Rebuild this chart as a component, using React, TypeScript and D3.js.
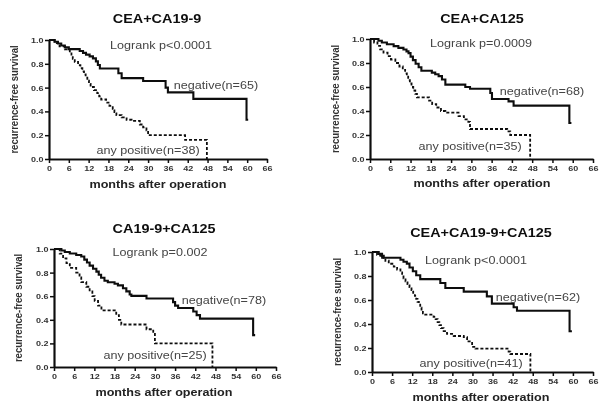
import React, { useRef, useEffect } from 'react';
import * as d3 from 'd3';

type Pt = [number, number];

// months / survival ticks
const monthTicks = [0, 6, 12, 18, 24, 30, 36, 42, 48, 54, 60, 66];
const survivalTicks = [0, 0.2, 0.4, 0.6, 0.8, 1.0];

// CEA+CA19-9
const ceaCa199Negative: Pt[] = [
  [0, 1], [1.7, 0.985], [2.7, 0.97], [3.7, 0.954], [4.8, 0.938], [6, 0.923], [9.3, 0.908],
  [10.3, 0.892], [11.2, 0.877], [12.3, 0.862], [13.3, 0.846], [14.2, 0.82], [14.8, 0.79],
  [15.4, 0.76], [21, 0.72], [22, 0.68], [28.5, 0.655], [35.3, 0.6], [36, 0.56], [43.7, 0.505],
  [59.8, 0.33], [60.3, 0.33],
];
const ceaCa199Positive: Pt[] = [
  [0, 1], [1.7, 0.974], [3.2, 0.947], [4.8, 0.921], [6.3, 0.895], [6.8, 0.868], [7.2, 0.842],
  [7.8, 0.816], [8.8, 0.789], [9.5, 0.763], [10.1, 0.737], [10.6, 0.711], [11.1, 0.684],
  [11.6, 0.658], [12.1, 0.632], [12.6, 0.605], [13.6, 0.579], [14.6, 0.553], [15.2, 0.526],
  [15.8, 0.5], [17.3, 0.474], [18.3, 0.447], [19.3, 0.421], [19.8, 0.395], [20.4, 0.368],
  [22, 0.35], [23.5, 0.33], [25, 0.32], [27.5, 0.29], [28.5, 0.265], [29.5, 0.24], [30, 0.2],
  [41.2, 0.16], [47.8, 0],
];

// CEA+CA125
const ceaCa125Negative: Pt[] = [
  [0, 1], [2.5, 0.985], [3.5, 0.971], [5, 0.956], [7, 0.941], [8.4, 0.926], [9.9, 0.912],
  [10.8, 0.897], [11.4, 0.882], [12, 0.853], [12.7, 0.824], [13.5, 0.794], [14.4, 0.765],
  [15.2, 0.735], [18.3, 0.72], [19.3, 0.706], [20.3, 0.691], [21.3, 0.662], [22.3, 0.62],
  [28.2, 0.6], [29.6, 0.585], [35.6, 0.55], [36.1, 0.5], [41, 0.48], [42.5, 0.445],
  [59, 0.3], [59.6, 0.3],
];
const ceaCa125Positive: Pt[] = [
  [0, 1], [1.2, 0.971], [2.2, 0.943], [3, 0.914], [4, 0.886], [5.2, 0.857], [6.2, 0.829],
  [7.5, 0.8], [8.7, 0.771], [9.7, 0.743], [10.4, 0.714], [10.9, 0.686], [11.3, 0.657],
  [11.8, 0.629], [12.3, 0.6], [12.8, 0.571], [13.4, 0.543], [13.9, 0.514], [17.5, 0.486],
  [18.4, 0.457], [19.6, 0.429], [21, 0.4], [22.3, 0.386], [26.2, 0.357], [27.8, 0.33],
  [29.1, 0.31], [29.6, 0.25], [40.6, 0.23], [41.5, 0.2], [47.4, 0],
];

// CA19-9+CA125
const ca199Ca125Negative: Pt[] = [
  [0, 1], [2.2, 0.987], [3.2, 0.974], [4.7, 0.962], [6.6, 0.949], [8.1, 0.936], [9, 0.91],
  [9.8, 0.885], [10.6, 0.859], [11.6, 0.833], [12.6, 0.808], [13.3, 0.782], [14, 0.756],
  [15, 0.731], [16, 0.718], [18, 0.705], [19, 0.692], [20.5, 0.667], [21.5, 0.641],
  [22.5, 0.615], [23, 0.603], [27.5, 0.58], [35.4, 0.55], [36, 0.52], [36.9, 0.5],
  [41.4, 0.47], [42.4, 0.44], [43.4, 0.41], [59.2, 0.27], [59.8, 0.27],
];
const ca199Ca125Positive: Pt[] = [
  [0, 1], [1.7, 0.96], [2.7, 0.92], [3.7, 0.88], [4.7, 0.84], [6.6, 0.8], [7.6, 0.76],
  [8.1, 0.72], [9.6, 0.68], [10.6, 0.64], [11.4, 0.6], [12.1, 0.56], [13.1, 0.52],
  [14.1, 0.48], [18.5, 0.44], [19.3, 0.4], [20, 0.36], [27.5, 0.32], [29.5, 0.28],
  [30, 0.2], [47.1, 0],
];

// CEA+CA19-9+CA125
const allNegative: Pt[] = [
  [0, 1], [2, 0.984], [3, 0.968], [3.5, 0.952], [8.5, 0.935], [9.4, 0.919], [10.4, 0.903],
  [11.2, 0.871], [12.2, 0.839], [13.2, 0.806], [14.4, 0.774], [20.4, 0.742], [21.9, 0.7],
  [27.4, 0.67], [34.3, 0.63], [35.8, 0.57], [42.3, 0.54], [43.3, 0.51], [59, 0.34], [59.7, 0.34],
];
const allPositive: Pt[] = [
  [0, 1], [1.5, 0.976], [2.5, 0.951], [4, 0.927], [5, 0.902], [6.5, 0.878], [7.5, 0.854],
  [8.5, 0.829], [9, 0.805], [9.4, 0.78], [10, 0.756], [10.6, 0.732], [11.2, 0.707],
  [11.8, 0.683], [12.3, 0.659], [12.8, 0.634], [13.2, 0.61], [13.6, 0.585], [14, 0.561],
  [14.4, 0.537], [14.8, 0.512], [15.2, 0.488], [15.9, 0.478], [18.4, 0.46], [19, 0.44],
  [19.6, 0.415], [20.1, 0.39], [20.6, 0.366], [21.4, 0.341], [22.4, 0.317], [24.4, 0.3],
  [27.4, 0.29], [28.4, 0.255], [29.9, 0.21], [30.9, 0.195], [40.8, 0.17], [41.3, 0.15], [47.3, 0],
];

const panels = [
  {
    title: 'CEA+CA19-9', logrank: 'Logrank p<0.0001', negLabel: 'negative(n=65)', posLabel: 'any positive(n=38)',
    negative: ceaCa199Negative, positive: ceaCa199Positive,
    left: 49, right: 267, top: 40, bottom: 159,
    titlePos: [157, 19], logrankPos: [161, 45], negPos: [216, 85], posPos: [148, 150], xLabelPos: [158, 184], yLabelX: 14,
  },
  {
    title: 'CEA+CA125', logrank: 'Logrank p=0.0009', negLabel: 'negative(n=68)', posLabel: 'any positive(n=35)',
    negative: ceaCa125Negative, positive: ceaCa125Positive,
    left: 370, right: 593, top: 39, bottom: 159,
    titlePos: [482, 19], logrankPos: [481, 43], negPos: [542, 91], posPos: [470, 146], xLabelPos: [482, 183], yLabelX: 335,
  },
  {
    title: 'CA19-9+CA125', logrank: 'Logrank p=0.002', negLabel: 'negative(n=78)', posLabel: 'any positive(n=25)',
    negative: ca199Ca125Negative, positive: ca199Ca125Positive,
    left: 54, right: 276, top: 249, bottom: 367,
    titlePos: [164, 229], logrankPos: [160, 252], negPos: [224, 300], posPos: [155, 355], xLabelPos: [164, 392], yLabelX: 18,
  },
  {
    title: 'CEA+CA19-9+CA125', logrank: 'Logrank p<0.0001', negLabel: 'negative(n=62)', posLabel: 'any positive(n=41)',
    negative: allNegative, positive: allPositive,
    left: 372, right: 593, top: 252, bottom: 372,
    titlePos: [481, 233], logrankPos: [476, 260], negPos: [538, 297], posPos: [471, 363], xLabelPos: [481, 397], yLabelX: 337,
  },
];

const FONT = '"Liberation Sans", Arial, sans-serif';
const SX = 1.2; // the source image is stretched sideways

const App = () => {
  const ref = useRef<SVGSVGElement>(null);

  useEffect(() => {
    const svg = d3.select(ref.current);
    svg.selectAll('*').remove();

    // the source is a soft, low-res scan
    svg.append('defs').append('filter')
      .attr('id', 'soft')
      .append('feGaussianBlur')
      .attr('stdDeviation', 0.4);

    const root = svg.append('g').attr('filter', 'url(#soft)');

    const label = (g: any, text: string, x: number, y: number, size: number, weight: string, fill: string) =>
      g.append('text')
        .attr('transform', `translate(${x},${y}) scale(${SX},1)`)
        .attr('text-anchor', 'middle')
        .attr('dominant-baseline', 'central')
        .attr('font-family', FONT)
        .attr('font-size', size)
        .attr('font-weight', weight)
        .attr('fill', fill)
        .text(text);

    panels.forEach(p => {
      const g = root.append('g');
      const x = d3.scaleLinear().domain([0, 66]).range([p.left, p.right]);
      const y = d3.scaleLinear().domain([0, 1]).range([p.bottom, p.top]);

      const line = d3.line<Pt>()
        .x(d => x(d[0]))
        .y(d => y(d[1]))
        .curve(d3.curveStepAfter);

      g.append('path')
        .datum(p.positive)
        .attr('fill', 'none')
        .attr('stroke', '#111')
        .attr('stroke-width', 1.8)
        .attr('stroke-dasharray', '3,2')
        .attr('d', line);

      g.append('path')
        .datum(p.negative)
        .attr('fill', 'none')
        .attr('stroke', '#111')
        .attr('stroke-width', 2.1)
        .attr('d', line);

      const xAxis = g.append('g')
        .attr('transform', `translate(0,${p.bottom})`)
        .call(d3.axisBottom(x).tickValues(monthTicks).tickFormat(d3.format('d')).tickSize(4).tickPadding(3).tickSizeOuter(0));
      const yAxis = g.append('g')
        .attr('transform', `translate(${p.left},0)`)
        .call(d3.axisLeft(y).tickValues(survivalTicks).tickFormat(d3.format('.1f')).tickSize(4).tickPadding(0.5).tickSizeOuter(0));

      [xAxis, yAxis].forEach(a => {
        a.select('.domain').attr('stroke', '#111').attr('stroke-width', 2.2);
        a.selectAll('.tick line').attr('stroke', '#111').attr('stroke-width', 1.5);
        a.selectAll('.tick text')
          .attr('font-family', FONT)
          .attr('font-size', 7.5)
          .attr('font-weight', 'bold')
          .attr('fill', '#333')
          .attr('transform', `scale(${SX},1)`);
      });

      label(g, p.title, p.titlePos[0], p.titlePos[1], 12, 'bold', '#111');
      label(g, p.logrank, p.logrankPos[0], p.logrankPos[1], 10.5, 'normal', '#444');
      label(g, p.negLabel, p.negPos[0], p.negPos[1], 10.5, 'normal', '#444');
      label(g, p.posLabel, p.posPos[0], p.posPos[1], 10.5, 'normal', '#444');
      label(g, 'months after operation', p.xLabelPos[0], p.xLabelPos[1], 10.5, 'bold', '#222');

      g.append('text')
        .attr('transform', `translate(${p.yLabelX},${(p.top + p.bottom) / 2}) scale(${SX},1) rotate(-90)`)
        .attr('text-anchor', 'middle')
        .attr('dominant-baseline', 'central')
        .attr('font-family', FONT)
        .attr('font-size', 9.5)
        .attr('font-weight', 'bold')
        .attr('fill', '#333')
        .text('recurrence-free survival');
    });
  }, []);

  return (
    <svg
      ref={ref}
      width={606}
      height={401}
      style={{ position: 'absolute', left: 0, top: 0, background: '#fff' }}
    />
  );
};

export default App;
